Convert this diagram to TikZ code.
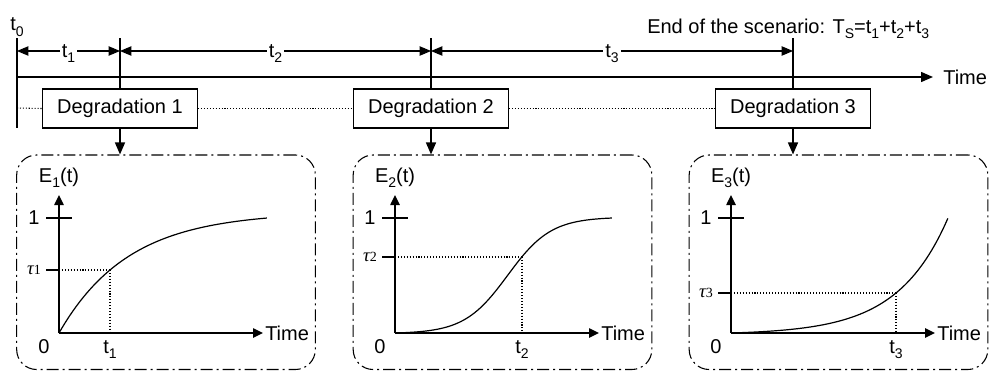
\documentclass[tikz,border=0pt]{standalone}
\usepackage{fontspec}
\setmainfont{Liberation Sans}
\newfontfamily\greekserif{Liberation Serif}
\usepackage{tikz}
\usetikzlibrary{arrows.meta,positioning}
\newcommand{\ix}[1]{\raisebox{-0.55ex}{\fontsize{10.5}{12}\selectfont #1}}
\newcommand{\tauval}[1]{{\greekserif\fontsize{14}{16}\selectfont\itshape τ\upshape\fontsize{10.5}{12}\selectfont #1}}

\begin{document}
\begin{tikzpicture}[
  x=0.75pt,
  y=-0.75pt,
  font=\fontsize{15}{18}\selectfont,
  main/.style={line width=1.1pt},
  bigtip/.style={-{Triangle[length=9pt, width=7.5pt]}},
  smalltip/.style={-{Triangle[length=7.5pt, width=7pt]}},
  dim/.style={line width=0.8pt, {Triangle[length=8.5pt, width=7pt]}-{Triangle[length=8.5pt, width=7pt]}},
  dimlbl/.style={midway, fill=white, inner sep=1.5pt, anchor=base, yshift=-4.5pt},
  degbox/.style={draw, line width=0.8pt, fill=white, minimum width=116.25pt, minimum height=29.25pt, inner sep=0pt},
  panel/.style={draw, line width=0.8pt, rounded corners=15pt, minimum width=224pt, minimum height=160.9pt,
    dash pattern=on 9pt off 3pt on 1.5pt off 3pt},
  guide/.style={line width=0.8pt, dash pattern=on 0.8pt off 1.4pt},
  curve/.style={line width=0.9pt}
]
  \useasboundingbox (0,0) rectangle (992,371);

  % dash-dot panels
  \foreach \i/\cx in {1/166, 2/502.5, 3/838.5}
    \node[panel] (pan\i) at (\cx,262.25) {};

  % time line
  \coordinate (s0) at (17,38);
  \coordinate (e0) at (17,128);
  \coordinate (a0) at (17,77);
  \coordinate (g0) at (17,108);
  \draw[main] (s0) -- (e0);
  \node[anchor=base] (t0lbl) at (17,31) {t\ix{0}};
  \node[anchor=west, inner sep=0pt] (time) at (943,77) {Time};
  \draw[main, bigtip] (a0) -- ([xshift=-7.5pt]time.west);

  \foreach \i/\cx in {1/120, 2/431, 3/793} {
    \coordinate (s\i) at (\cx,38);
    \coordinate (d\i) at (\cx,51);
    \node[degbox] (deg\i) at (\cx,108.5) {Degradation \i};
    \draw[main] (s\i) -- (deg\i.north);
    \draw[main, bigtip] (deg\i.south) -- (deg\i.south |- pan\i.north);
  }
  \coordinate (d0) at (17,51);

  \draw[dim] (d0) -- (d1) node[dimlbl] {t\ix{1}};
  \draw[dim] (d1) -- (d2) node[dimlbl] {t\ix{2}};
  \draw[dim] (d2) -- (d3) node[dimlbl] {t\ix{3}};

  \draw[guide] (g0) -- (deg1.west);
  \draw[guide] (deg1.east) -- (deg2.west);
  \draw[guide] (deg2.east) -- (deg3.west);

  \node[anchor=base west, inner sep=0pt] (endlbl) at (647,33)
    {End of the scenario: T\ix{S}=t\ix{1}+t\ix{2}+t\ix{3}};

  % the three degradation curves
  \foreach \i/\ox/\tx/\ty in {1/59/110/270, 2/395/522/257, 3/731/896/293} {
    \coordinate (o\i) at (\ox,333);
    \coordinate (yt\i) at (\ox,195);
    \node[anchor=west, inner sep=0pt] (ptime\i) at (\ox+206,333) {Time};
    \draw[main, smalltip] (o\i) -- (yt\i);
    \draw[main, smalltip] (o\i) -- ([xshift=-1.5pt]ptime\i.west);
    \node[anchor=base] (elbl\i) at (\ox,182) {E\ix{\i}(t)};
    \draw[main] (\ox-13,218) -- (\ox+13,218);
    \node (one\i) at (\ox-25,218) {1};
    \draw[main] (\ox-13,\ty) -- (\ox,\ty);
    \node (tau\i) at (\ox-25,\ty) {\tauval{\i}};
    \coordinate (p\i) at (\tx,\ty);
    \draw[guide] (\ox,\ty) -- (p\i);
    \draw[guide] (p\i) -- (\tx,333);
    \node[anchor=base] (zero\i) at (\ox-15,353) {0};
    \node[anchor=base] (tlbl\i) at (\tx,353) {t\ix{\i}};
  }

  \draw[curve] plot[domain=0:1, samples=80]
    ({59+208*\x}, {333-115*(1-exp(-3*\x))/(1-exp(-3))});
  \draw[curve] plot[domain=0:1, samples=80]
    ({395+217*\x}, {333-115*(1/(1+exp(-10*(\x-0.519)))-0.00554)/0.98638});
  \draw[curve] plot[domain=0:1, samples=80]
    ({731+217*\x}, {333-115*(exp(4.3*\x)-1)/(exp(4.3)-1)});
\end{tikzpicture}
\end{document}
